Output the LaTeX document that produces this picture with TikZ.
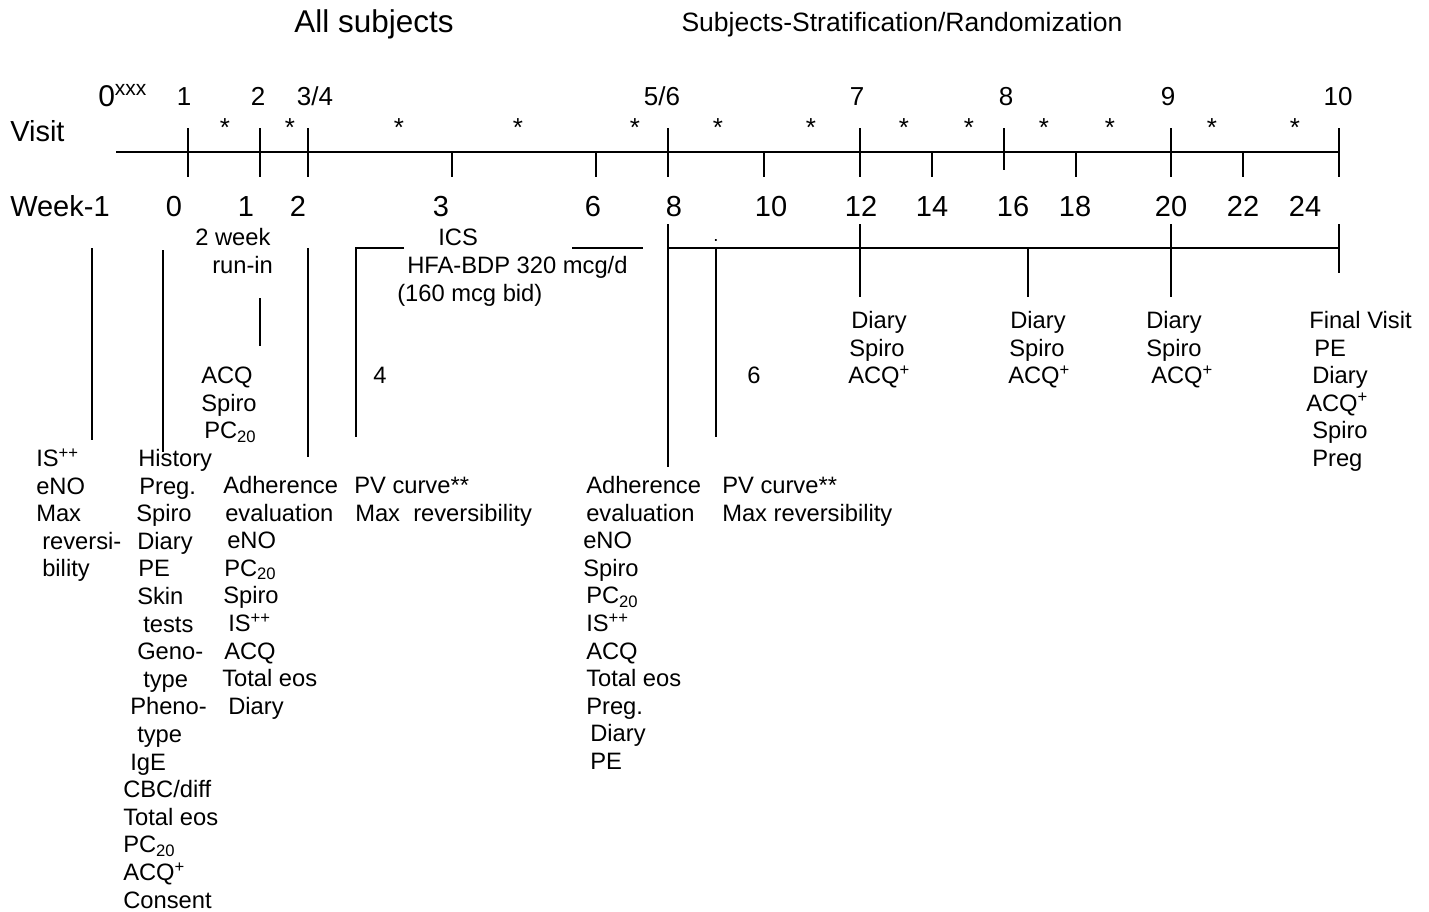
\documentclass[tikz,border=0pt]{standalone}
\usepackage{fontspec}
\setmainfont{Liberation Sans}
\begin{document}
\begin{tikzpicture}[x=0.75pt,y=-0.75pt,
  ln/.style={line width=1.5pt},
  lst/.style={inner sep=0pt,anchor=base west,font=\fontsize{17.8}{20}\selectfont},
  lstc/.style={inner sep=0pt,anchor=base,font=\fontsize{17.8}{20}\selectfont},
  big/.style={inner sep=0pt,anchor=base,font=\fontsize{21.75}{24}\selectfont},
  bigw/.style={inner sep=0pt,anchor=base west,font=\fontsize{21.75}{24}\selectfont},
  vnum/.style={inner sep=0pt,anchor=base,font=\fontsize{19.5}{22}\selectfont},
  startxt/.style={inner sep=0pt,anchor=base,font=\fontsize{19.5}{22}\selectfont}]
\useasboundingbox (0,0) rectangle (1429,911);
% titles
\node[big,font=\fontsize{23.6}{26}\selectfont] (t1) at (374,32) {All subjects};
\node[big,font=\fontsize{19.9}{22}\selectfont] (t2) at (902,31.5) {Subjects-Stratification/Randomization};
% row labels
\node[bigw] (visit) at (10,141) {Visit};
\node[bigw] (week) at (10,216) {Week-1};
% visit numbers
\node[inner sep=0pt,anchor=base west,font=\fontsize{22.5}{24}\selectfont] (v0) at (98,106) {0\textsuperscript{xxx}};
\foreach \xx/\txt [count=\i] in {184/1,258/2,315/3\slash 4,662/5\slash 6,857/7,1006/8,1168/9,1338/10}
  \node[vnum] (v\i) at (\xx,105) {\txt};
% stars
\foreach \xx [count=\i] in {225,290,399,518,635,718,811,904,969,1044,1110,1212,1295}
  \node[startxt] (s\i) at (\xx,136.5) {*};
% week numbers
\foreach \xx/\txt [count=\i] in {174/0,246/1,298/2,441/3,593/6,674/8,771/10,861/12,932/14,1013/16,1075/18,1171/20,1243/22,1305/24}
  \node[big] (w\i) at (\xx,216) {\txt};
% axis
\coordinate (axL) at (116,152);
\coordinate (axR) at (1339,152);
\draw[ln] (axL) -- (axR);
\foreach \xx [count=\i] in {188,260,308,668,860,1171,1339} {
  \coordinate (vt\i) at (\xx,128);
  \coordinate (vb\i) at (\xx,177);
  \draw[ln] (vt\i) -- (vb\i);
}
\coordinate (vt8) at (1004,128);
\coordinate (vb8) at (1004,170);
\draw[ln] (vt8) -- (vb8);
\foreach \xx [count=\i] in {452,596,764,932,1076,1243} {
  \coordinate (wt\i) at (\xx,152);
  \coordinate (wb\i) at (\xx,177);
  \draw[ln] (wt\i) -- (wb\i);
}
% lower vertical lines
\coordinate (a1) at (92,248);   \coordinate (a2) at (92,440);
\coordinate (b1) at (163,250);  \coordinate (b2) at (163,452);
\coordinate (c1) at (260,298);  \coordinate (c2) at (260,346);
\coordinate (d1) at (308,248);  \coordinate (d2) at (308,457);
\coordinate (e0) at (404,248);  \coordinate (e1) at (356,248); \coordinate (e2) at (356,437);
\coordinate (f1) at (572,248);  \coordinate (f2) at (643,248);
\coordinate (g1) at (668,224);  \coordinate (g2) at (668,467);
\coordinate (g3) at (668,248);  \coordinate (g4) at (1339,248);
\coordinate (h1) at (716,248);  \coordinate (h2) at (716,437);
\coordinate (i1) at (860,224);  \coordinate (i2) at (860,297);
\coordinate (j1) at (1028,248); \coordinate (j2) at (1028,297);
\coordinate (k1) at (1171,224); \coordinate (k2) at (1171,297);
\coordinate (l1) at (1339,224); \coordinate (l2) at (1339,273);
\draw[ln] (a1) -- (a2);
\draw[ln] (b1) -- (b2);
\draw[ln] (c1) -- (c2);
\draw[ln] (d1) -- (d2);
\draw[ln] (e0) -- (e1) -- (e2);
\draw[ln] (f1) -- (f2);
\draw[ln] (g1) -- (g2);
\draw[ln] (g3) -- (g4);
\draw[ln] (h1) -- (h2);
\draw[ln] (i1) -- (i2);
\draw[ln] (j1) -- (j2);
\draw[ln] (k1) -- (k2);
\draw[ln] (l1) -- (l2);
\node[inner sep=0pt,anchor=base,font=\fontsize{14}{16}\selectfont] (dot) at (716,241) {.};
% run-in and ICS texts
\node[lst] (run1) at (195,245.5) {2 week};
\node[lst] (run2) at (212,273.5) {run-in};
\node[lst] (ics1) at (438,245.5) {ICS};
\node[lst] (ics2) at (407,273.5) {HFA-BDP 320 mcg/d};
\node[lst] (ics3) at (397,301.5) {(160 mcg bid)};
\node[lstc] (n4) at (380,383.5) {4};
\node[lstc] (n6) at (754,383.5) {6};
% visit 2 list
\foreach \xx/\txt [count=\i] in {201/ACQ,201/Spiro,204/PC\textsubscript{20}}
  \node[lst] (m\i) at (\xx,{383.5+27.5*(\i-1)}) {\txt};
% column A
\foreach \xx/\txt [count=\i] in {36/IS\textsuperscript{++},36/eNO,36/Max,42/reversi-,42/bility}
  \node[lst] (ca\i) at (\xx,{466.5+27.6*(\i-1)}) {\txt};
% column B
\foreach \xx/\txt [count=\i] in {138/History,139/Preg.,136/Spiro,137/Diary,138/PE,137/Skin,143/tests,137/Geno-,143/type,130/Pheno-,137/type,130/IgE,123/{CBC\slash diff},123/Total eos,123/PC\textsubscript{20},123/ACQ\textsuperscript{+},123/Consent}
  \node[lst] (cb\i) at (\xx,{466.5+27.6*(\i-1)}) {\txt};
% column C
\foreach \xx/\txt [count=\i] in {223/Adherence,225/evaluation,227/eNO,224/PC\textsubscript{20},223/Spiro,228/IS\textsuperscript{++},224/ACQ,222/Total eos,228/Diary}
  \node[lst] (cc\i) at (\xx,{493.5+27.6*(\i-1)}) {\txt};
% column D
\node[lst] (cd1) at (354,493.5) {PV curve**};
\node[lst] (cd2) at (355,521) {Max~~reversibility};
% column E
\foreach \xx/\txt [count=\i] in {586/Adherence,586/evaluation,583/eNO,583/Spiro,586/PC\textsubscript{20},586/IS\textsuperscript{++},586/ACQ,586/Total eos,586/Preg.,590/Diary,590/PE}
  \node[lst] (ce\i) at (\xx,{493.5+27.6*(\i-1)}) {\txt};
% column F
\node[lst] (cf1) at (722,493.5) {PV curve**};
\node[lst] (cf2) at (722,521) {Max reversibility};
% right columns
\foreach \xx/\txt [count=\i] in {851/Diary,849/Spiro,848/ACQ\textsuperscript{+}}
  \node[lst] (r1\i) at (\xx,{328.5+27.6*(\i-1)}) {\txt};
\foreach \xx/\txt [count=\i] in {1010/Diary,1009/Spiro,1008/ACQ\textsuperscript{+}}
  \node[lst] (r2\i) at (\xx,{328.5+27.6*(\i-1)}) {\txt};
\foreach \xx/\txt [count=\i] in {1146/Diary,1146/Spiro,1151/ACQ\textsuperscript{+}}
  \node[lst] (r3\i) at (\xx,{328.5+27.6*(\i-1)}) {\txt};
\foreach \xx/\txt [count=\i] in {1309/Final Visit,1314/PE,1312/Diary,1306/ACQ\textsuperscript{+},1312/Spiro,1312/Preg}
  \node[lst] (r4\i) at (\xx,{328.5+27.6*(\i-1)}) {\txt};
\end{tikzpicture}
\end{document}
